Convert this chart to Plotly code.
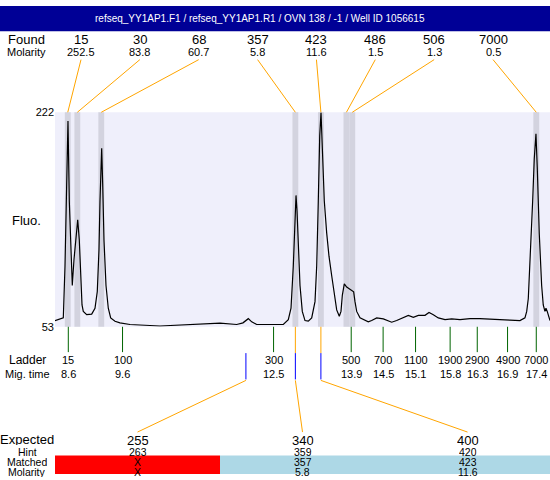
import plotly.graph_objects as go

# ---------------- data ----------------
title_text = "refseq_YY1AP1.F1 / refseq_YY1AP1.R1 / OVN 138 / -1 / Well ID 1056615"

found_sizes = [15, 30, 68, 357, 423, 486, 506, 7000]
found_molarity = [252.5, 83.8, 60.7, 5.8, 11.6, 1.5, 1.3, 0.5]
found_times = [8.59, 8.77, 9.22, 12.87, 13.35, 13.83, 13.94, 17.40]

ladder_sizes = [15, 100, 300, 500, 700, 1100, 1900, 2900, 4900, 7000]
ladder_times = [8.60, 9.62, 12.46, 13.92, 14.52, 15.13, 15.78, 16.29, 16.86, 17.40]

expected_sizes = [255, 340, 400]
hint_sizes = [263, 359, 420]
matched_sizes = ["X", "357", "423"]
matched_molarity = ["X", "5.8", "11.6"]
expected_times = [11.94, 12.87, 13.35]

y_ticks = [53, 222]

trace_time = [8.350, 8.506, 8.538, 8.557, 8.581, 8.594, 8.619, 8.645, 8.675, 8.707,
              8.745, 8.777, 8.807, 8.833, 8.858, 8.882, 8.946, 9.040, 9.102, 9.145,
              9.177, 9.196, 9.215, 9.228, 9.247, 9.271, 9.309, 9.352, 9.397, 9.478,
              9.572, 9.760, 10.324, 11.077, 11.453, 11.767, 11.885, 11.985, 12.049, 12.143,
              12.643, 12.737, 12.788, 12.831, 12.850, 12.869, 12.882, 12.901, 12.925, 12.957,
              13.000, 13.051, 13.113, 13.177, 13.239, 13.271, 13.301, 13.328, 13.352, 13.376,
              13.414, 13.459, 13.502, 13.553, 13.602, 13.647, 13.696, 13.728, 13.753, 13.790,
              13.835, 13.879, 13.929, 13.966, 13.991, 14.023, 14.085, 14.147, 14.241, 14.305,
              14.399, 14.524, 14.618, 14.681, 14.775, 14.900, 14.994, 15.088, 15.182, 15.308,
              15.383, 15.464, 15.558, 15.684, 15.809, 15.965, 16.153, 16.341, 16.529, 16.717,
              16.905, 17.093, 17.187, 17.220, 17.250, 17.295, 17.332, 17.362, 17.389, 17.394,
              17.419, 17.456, 17.501, 17.531, 17.563, 17.582, 17.606, 17.633, 17.658]
trace_fluo = [57.9, 60.0, 100.9, 152.1, 213.6, 215.1, 152.1, 113.7, 85.5, 106.0,
              126.8, 137.3, 121.4, 85.5, 70.2, 65.1, 62.5, 63.0, 67.6, 80.7,
              113.7, 152.1, 193.0, 193.6, 165.2, 121.4, 85.5, 67.6, 60.0, 57.4,
              56.1, 54.8, 53.6, 55.1, 55.9, 54.8, 56.1, 59.4, 56.9, 54.8,
              54.8, 58.6, 67.6, 100.9, 126.8, 156.0, 156.5, 144.4, 118.9, 85.5,
              65.1, 57.9, 57.4, 60.0, 72.8, 100.9, 152.1, 203.6, 221.8, 190.5,
              152.1, 126.8, 108.6, 93.2, 77.8, 66.3, 61.3, 65.1, 77.8, 86.8,
              84.3, 83.0, 81.7, 80.5, 72.8, 65.1, 60.0, 58.6, 56.9, 57.9,
              60.0, 59.2, 57.4, 56.6, 57.9, 60.0, 62.0, 60.5, 62.0, 62.0,
              64.3, 62.5, 60.0, 58.6, 59.2, 58.6, 59.4, 59.4, 59.2, 58.6,
              58.2, 57.9, 60.0, 65.1, 75.3, 113.7, 152.1, 185.4, 204.6, 205.1,
              177.7, 126.5, 85.5, 70.2, 65.1, 67.6, 65.1, 60.0, 57.9]

# ---------------- layout helpers ----------------
W, H = 550, 480
X_RANGE = [8.35, 17.658]
PLOT_L, PLOT_R = 55, 550
PLOT_T, PLOT_B = 109, 329
FONT = "Liberation Sans, Arial, sans-serif"
ORANGE = "#FFA500"


def px(x):
    return x / W


def py(y):
    return 1 - y / H


def px_to_t(x):
    return X_RANGE[0] + (x - PLOT_L) / (PLOT_R - PLOT_L) * (X_RANGE[1] - X_RANGE[0])


fig = go.Figure()
fig.add_trace(go.Scatter(x=trace_time, y=trace_fluo, mode="lines",
                         line=dict(color="black", width=1.2), hoverinfo="skip",
                         showlegend=False))

shapes = []
ann = []


def text(x, y, s, size, color="black", xanchor="center", xref="paper", height=None):
    a = dict(x=x, y=y, xref=xref, yref="paper", text=s, showarrow=False,
             xanchor=xanchor, yanchor="middle", borderpad=0,
             font=dict(family=FONT, size=size, color=color))
    if height:
        a["height"] = height
    ann.append(a)


def line(x0, y0, x1, y1, color, width=1, xref="x"):
    shapes.append(dict(type="line", xref=xref, yref="paper", x0=x0, y0=y0, x1=x1, y1=y1,
                       line=dict(color=color, width=width)))


# header
shapes.append(dict(type="rect", xref="paper", yref="paper", x0=0, x1=1, y0=py(26), y1=1,
                   fillcolor="#000096", line=dict(width=0)))
text(px(260), py(13), title_text, 10, color="white")

# peak bars
half_w = 0.055
for t in found_times:
    shapes.append(dict(type="rect", xref="x", yref="y domain", x0=t - half_w, x1=t + half_w,
                       y0=0, y1=1, fillcolor="#D3D3DF", line=dict(width=0), layer="below"))

# found labels + connectors
text(px(26), py(34), "Found", 13)
text(px(26), py(47), "Molarity", 11)
slot0, slot_step = 81, 58.86
for i, (s, m, t) in enumerate(zip(found_sizes, found_molarity, found_times)):
    sx = slot0 + i * slot_step
    text(px(sx), py(34), str(s), 13)
    text(px(sx), py(47), f"{m:.1f}", 11)
    line(px_to_t(sx), py(55), t, py(PLOT_T), ORANGE)

# y axis title
text(px(26), py(220), "Fluo.", 13)

# ladder
text(px(27), py(363), "Ladder", 12)
text(px(27), py(377), "Mig. time", 11)
for s, t in zip(ladder_sizes, ladder_times):
    line(t, py(PLOT_B), t, py(355), "#006400")
    text(t, py(363), str(s), 11, xref="x")
    text(t, py(377), f"{t:.1f}", 11, xref="x")

# expected / matched
col_w = (PLOT_R - PLOT_L) / len(expected_sizes)
for i, (e, h, m, mm, t) in enumerate(zip(expected_sizes, hint_sizes, matched_sizes,
                                         matched_molarity, expected_times)):
    cx = PLOT_L + col_w * (i + 0.5)
    if m != "X":
        line(t, py(PLOT_B), t, py(356), ORANGE)
    line(t, py(356), t, py(383), "#0000FF")
    line(t, py(384), px_to_t(cx), py(437), ORANGE)
    fill = "#FF0000" if m == "X" else "#ADD8E6"
    shapes.append(dict(type="rect", xref="paper", yref="paper",
                       x0=px(PLOT_L + col_w * i), x1=px(PLOT_L + col_w * (i + 1)),
                       y0=0, y1=py(461), fillcolor=fill, line=dict(width=0)))
    text(px(cx), py(445), str(e), 13, height=12)
    text(px(cx), py(457), str(h), 10.5, height=10)
    text(px(cx), py(467.5), m, 10.5, height=10)
    text(px(cx), py(477.5), mm, 10.5, height=10)

text(px(27), py(444), "Expected", 13, height=12)
text(px(27), py(457), "Hint", 10.5, height=10)
text(px(27), py(467.5), "Matched", 10.5, height=10)
text(px(27), py(477.5), "Molarity", 10.5, height=10)

fig.update_layout(
    width=W, height=H, margin=dict(l=0, r=0, t=0, b=0),
    paper_bgcolor="white", plot_bgcolor="#EFEFFB",
    shapes=shapes, annotations=ann, showlegend=False,
    xaxis=dict(domain=[px(PLOT_L), 1], range=X_RANGE, visible=False, fixedrange=True),
    yaxis=dict(domain=[py(PLOT_B), py(PLOT_T)], range=[53, 222], tickvals=y_ticks,
               showgrid=False, zeroline=False, showline=False, ticks="",
               tickfont=dict(family=FONT, size=11, color="black"), fixedrange=True),
)

fig.write_html("out.html", config={"displayModeBar": False},
               post_script="document.body.style.margin='0';document.body.style.overflow='hidden';")
